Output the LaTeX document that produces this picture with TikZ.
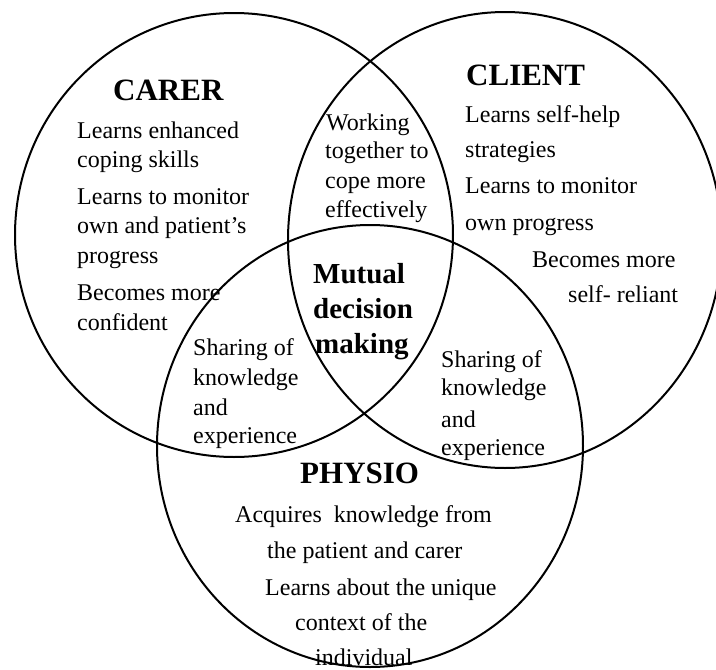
\documentclass[tikz,border=0pt]{standalone}
\usepackage{fontspec}
\setmainfont{Liberation Serif}
\begin{document}
\begin{tikzpicture}[x=1pt,y=-1pt,
  ring/.style={draw=black,line width=2pt},
  txt/.style={anchor=base west,inner sep=0pt,font=\fontsize{24}{29}\selectfont},
  ttl/.style={anchor=base west,inner sep=0pt,font=\fontsize{31}{36}\selectfont\bfseries},
  mid/.style={anchor=base west,inner sep=0pt,font=\fontsize{29}{34}\selectfont\bfseries}]
\useasboundingbox (0,0) rectangle (716,670);
% circles
\draw[ring] (234,235) ellipse [x radius=219pt, y radius=222pt];
\draw[ring] (505,240) ellipse [x radius=217pt, y radius=228pt];
\draw[ring] (370,446) ellipse [x radius=213pt, y radius=221pt];
% CARER
\node[ttl] (carer) at (113,100) {CARER};
\node[txt] (c1) at (77,138) {Learns enhanced};
\node[txt] (c2) at (77,167) {coping skills};
\node[txt] (c3) at (77,204) {Learns to monitor};
\node[txt] (c4) at (77,233) {own and patient’s};
\node[txt] (c5) at (77,263) {progress};
\node[txt] (c6) at (77,300) {Becomes more};
\node[txt] (c7) at (77,330) {confident};
% CLIENT
\node[ttl] (client) at (466,85) {CLIENT};
\node[txt] (k1) at (465,122) {Learns self-help};
\node[txt] (k2) at (465,157) {strategies};
\node[txt] (k3) at (465,193) {Learns to monitor};
\node[txt] (k4) at (465,230) {own progress};
\node[txt] (k5) at (532,267) {Becomes more};
\node[txt] (k6) at (568,302) {self- reliant};
% carer-client lens
\node[txt] (w1) at (326,130) {Working};
\node[txt] (w2) at (325,158) {together to};
\node[txt] (w3) at (325,188) {cope more};
\node[txt] (w4) at (325,217) {effectively};
% centre
\node[mid] (m1) at (313,283) {Mutual};
\node[mid] (m2) at (313,318) {decision};
\node[mid] (m3) at (315,353) {making};
% carer-physio lens
\node[txt] (l1) at (193,355) {Sharing of};
\node[txt] (l2) at (193,385) {knowledge};
\node[txt] (l3) at (193,415) {and};
\node[txt] (l4) at (193,443) {experience};
% client-physio lens
\node[txt] (r1) at (441,367) {Sharing of};
\node[txt] (r2) at (441,395) {knowledge};
\node[txt] (r3) at (441,427) {and};
\node[txt] (r4) at (441,455) {experience};
% PHYSIO
\node[ttl] (physio) at (300,483) {PHYSIO};
\node[txt] (p1) at (235,522) {Acquires\ \ knowledge from};
\node[txt] (p2) at (267,558) {the patient and carer};
\node[txt] (p3) at (265,595) {Learns about the unique};
\node[txt] (p4) at (295,630) {context of the};
\node[txt] (p5) at (315,665) {individual};
\end{tikzpicture}
\end{document}
